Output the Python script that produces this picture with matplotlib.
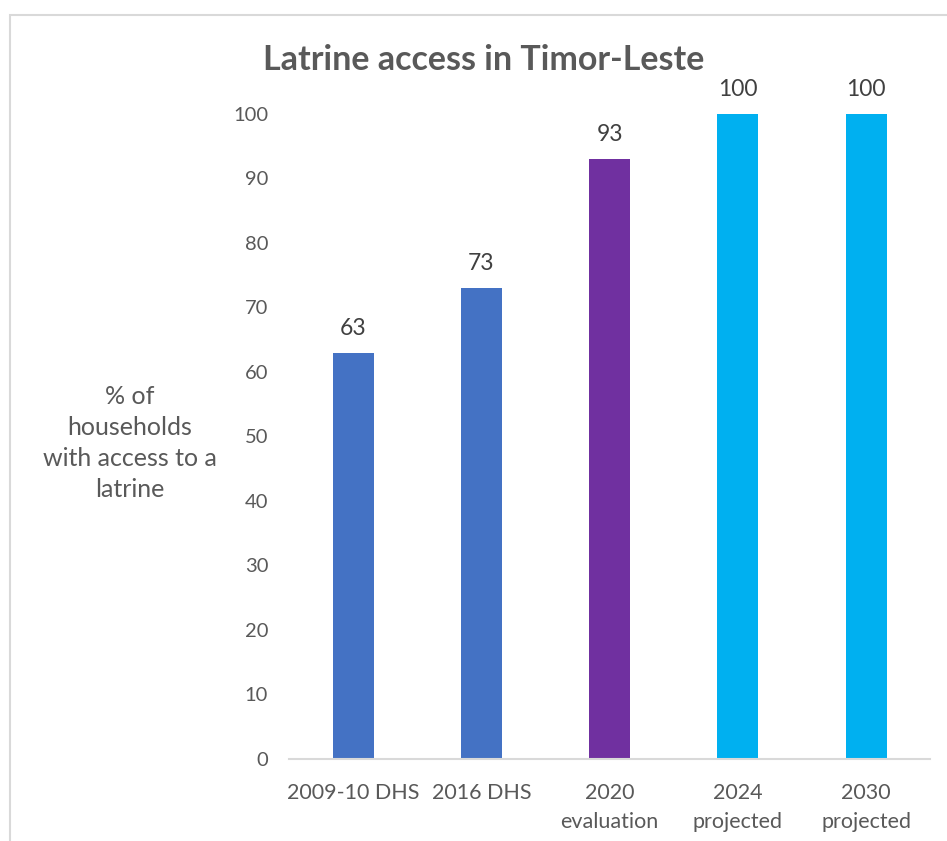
import matplotlib.pyplot as plt
from matplotlib.patches import Rectangle

# Data
categories = ['2009-10 DHS', '2016 DHS', '2020\nevaluation', '2024\nprojected', '2030\nprojected']
values = [63, 73, 93, 100, 100]
colors = ['#4472C4', '#4472C4', '#7030A0', '#00B0F0', '#00B0F0']

plt.rcParams['font.family'] = ['Lato', 'DejaVu Sans']
text_color = '#595959'

fig = plt.figure(figsize=(9.47, 8.41), dpi=100)
ax = fig.add_axes([0.3052, 0.0975, 0.677, 0.767])

x = range(len(categories))
bars = ax.bar(x, values, width=0.32, color=colors)

for i, v in enumerate(values):
    ax.annotate(str(v), (i, v), xytext=(0, 10), textcoords='offset points',
                ha='center', va='bottom', fontsize=16.5, color='#404040')

ax.set_xlim(-0.5, len(categories) - 0.5)
ax.set_ylim(0, 100)
ax.set_yticks(range(0, 101, 10))
ax.set_xticks(list(x))
ax.set_xticklabels(categories, fontsize=15.5, color=text_color, linespacing=1.6)
ax.tick_params(axis='y', labelsize=14.5, labelcolor=text_color, length=0, pad=15)
ax.tick_params(axis='x', length=0, pad=17)

for s in ['top', 'right', 'left']:
    ax.spines[s].set_visible(False)
ax.spines['bottom'].set_color('#D9D9D9')
ax.spines['bottom'].set_linewidth(1.5)

ax.set_ylabel('% of\nhouseholds\nwith access to a\nlatrine', rotation=0, fontsize=18,
              color=text_color, ha='center', va='center', linespacing=1.42)
ax.yaxis.set_label_coords(-0.248, 0.49)

fig.text(0.511, 0.929, 'Latrine access in Timor-Leste', ha='center', va='center',
         fontsize=24.5, fontweight='bold', color=text_color)

# chart frame
fig.patches.append(Rectangle((0.011, -0.05), 1.2, 1.05 - 0.018, transform=fig.transFigure,
                             fill=False, edgecolor='#D9D9D9', linewidth=1.5))

fig.savefig('out.png', dpi=100)
